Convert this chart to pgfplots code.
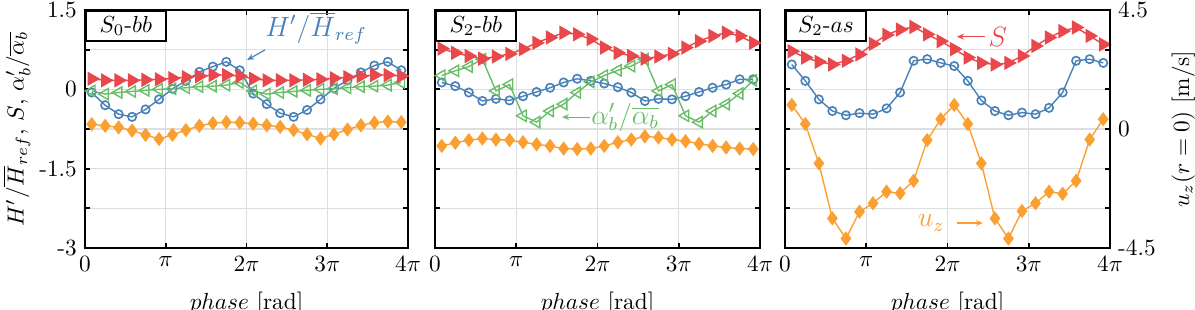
\documentclass[border=0pt]{standalone}
\usepackage{pgfplots}
\pgfplotsset{compat=1.18}
\usepackage{pgfplotstable}
\usetikzlibrary{arrows.meta}
\definecolor{cred}{RGB}{232,72,76}
\definecolor{cblue}{RGB}{72,128,184}
\definecolor{cgreen}{RGB}{104,190,104}
\definecolor{corange}{RGB}{250,160,50}

% x in units of pi
\pgfplotstableread{
x S H A U
0.0833 0.20 -0.06 -0.03 -0.66
0.2500 0.17 -0.30 -0.09 -0.69
0.4167 0.17 -0.47 -0.06 -0.72
0.5833 0.17 -0.52 -0.04 -0.78
0.7500 0.18 -0.38 -0.02 -0.86
0.9167 0.19 -0.19 0.00 -0.94
1.0833 0.21 0.01 0.01 -0.86
1.2500 0.23 0.16 0.03 -0.77
1.4167 0.25 0.33 0.05 -0.69
1.5833 0.27 0.43 0.06 -0.64
1.7500 0.27 0.52 0.08 -0.62
1.9167 0.25 0.36 0.13 -0.63
2.0833 0.20 -0.08 -0.03 -0.65
2.2500 0.17 -0.28 -0.09 -0.68
2.4167 0.17 -0.45 -0.06 -0.71
2.5833 0.17 -0.52 -0.04 -0.77
2.7500 0.18 -0.39 -0.02 -0.85
2.9167 0.19 -0.19 0.00 -0.93
3.0833 0.21 0.02 0.01 -0.85
3.2500 0.23 0.17 0.03 -0.76
3.4167 0.25 0.32 0.05 -0.68
3.5833 0.27 0.45 0.06 -0.63
3.7500 0.27 0.52 0.08 -0.61
3.9167 0.25 0.36 0.13 -0.62
}\tabA

\pgfplotstableread{
x S H A U
0.0833 0.77 0.13 0.26 -1.07
0.2500 0.69 0.06 0.35 -1.01
0.4167 0.63 -0.06 0.43 -0.96
0.5833 0.58 -0.22 0.57 -0.93
0.7500 0.62 -0.18 -0.03 -0.95
0.9167 0.67 -0.21 0.09 -0.96
1.0833 0.76 -0.13 -0.50 -1.00
1.2500 0.88 -0.05 -0.62 -1.04
1.4167 0.98 0.03 -0.41 -1.07
1.5833 1.07 0.13 -0.28 -1.12
1.7500 1.04 0.20 -0.06 -1.13
1.9167 0.95 0.16 0.14 -1.12
2.0833 0.79 0.11 0.26 -1.07
2.2500 0.69 0.04 0.36 -1.00
2.4167 0.63 -0.06 0.44 -0.95
2.5833 0.58 -0.22 0.57 -0.89
2.7500 0.62 -0.18 -0.03 -0.91
2.9167 0.67 -0.19 0.09 -0.95
3.0833 0.79 -0.13 -0.50 -0.98
3.2500 0.91 -0.05 -0.62 -1.03
3.4167 1.01 0.03 -0.41 -1.07
3.5833 1.07 0.09 -0.28 -1.10
3.7500 1.01 0.19 -0.08 -1.12
3.9167 0.88 0.19 0.17 -1.13
}\tabB

\pgfplotstableread{
x S H U
0.0833 0.72 0.47 0.91
0.2500 0.60 0.16 0.19
0.4167 0.52 -0.19 -1.30
0.5833 0.47 -0.41 -3.38
0.7500 0.54 -0.49 -4.14
0.9167 0.66 -0.45 -3.13
1.0833 0.86 -0.47 -2.81
1.2500 1.03 -0.36 -2.37
1.4167 1.13 -0.06 -2.43
1.5833 1.18 0.54 -1.96
1.7500 1.04 0.57 -0.42
1.9167 0.91 0.50 0.37
2.0833 0.76 0.44 0.91
2.2500 0.60 0.16 0.19
2.4167 0.50 -0.21 -1.30
2.5833 0.47 -0.41 -3.38
2.7500 0.50 -0.49 -4.14
2.9167 0.63 -0.44 -3.10
3.0833 0.82 -0.47 -2.81
3.2500 0.98 -0.35 -2.37
3.4167 1.10 -0.06 -2.45
3.5833 1.17 0.54 -1.96
3.7500 1.01 0.57 -0.40
3.9167 0.85 0.50 0.37
}\tabC

\pgfplotsset{
  panel/.style={scale only axis, width=139.3pt, height=102.34pt,
    xmin=0, xmax=4, ymin=-3, ymax=1.5,
    xtick={0,1,2,3,4}, xticklabels={0,$\pi$,$2\pi$,$3\pi$,$4\pi$},
    ytick={-3,-2.25,-1.5,-0.75,0,0.75,1.5},
    grid=major, grid style={black!13, line width=0.5pt},
    axis line style={line width=1pt},
    tick style={black, line width=0.8pt}, major tick length=2pt, tick align=inside,
    xlabel={$phase$ [rad]}, xlabel style={yshift=-1.5pt},
    every axis plot/.append style={line width=0.6pt},
  },
  sS/.style={cred, mark=triangle*, mark size=3pt, mark options={rotate=-90, fill=cred, solid}},
  sH/.style={cblue, mark=o, mark size=1.8pt, mark options={line width=0.7pt}},
  sA/.style={cgreen, mark=triangle, mark size=2.8pt, mark options={rotate=90, line width=0.6pt}},
  sU/.style={corange, mark=diamond*, mark size=2.6pt, mark options={fill=corange}},
}
\tikzset{lbl/.style={draw, line width=0.8pt, fill=white, anchor=north west, minimum width=34.4pt, minimum height=12.9pt, inner sep=0pt},
  ann/.style={font=\fontsize{11.5}{13}\selectfont}}

\begin{document}
\begin{tikzpicture}
\useasboundingbox (0,0) rectangle (513.85pt,133.3pt);

\begin{axis}[panel, at={(36.55pt,26.66pt)}, anchor=south west, width=138.9pt,
  yticklabels={-3,,-1.5,,0,,1.5}, ylabel shift=-3pt,
  ylabel={$H'/\overline{H}_{ref}$, $S$, $\alpha'_b/\overline{\alpha_b}$}]
\addplot[sH] table[x=x,y=H]{\tabA};
\addplot[sA] table[x=x,y=A]{\tabA};
\addplot[sU] table[x=x,y=U]{\tabA};
\addplot[sS] table[x=x,y=S]{\tabA};
\node[lbl] at (rel axis cs:0,1) {$S_0$-$bb$};
\node[cblue, ann] at (rel axis cs:0.715,0.924) {$H'/\overline{H}_{ref}$};
\draw[cblue, line width=0.5pt, -{Stealth[length=3pt,width=2.5pt]}] (rel axis cs:0.557,0.832) -- (rel axis cs:0.502,0.790);
\end{axis}

\begin{axis}[panel, at={(187.05pt,26.66pt)}, anchor=south west, width=139.75pt,
  yticklabels={}]
\addplot[sH] table[x=x,y=H]{\tabB};
\addplot[sA] table[x=x,y=A]{\tabB};
\addplot[sU] table[x=x,y=U]{\tabB};
\addplot[sS] table[x=x,y=S]{\tabB};
\node[lbl] at (rel axis cs:0,1) {$S_2$-$bb$};
\node[cgreen, ann] at (rel axis cs:0.585,0.55) {$\alpha'_b/\overline{\alpha_b}$};
\draw[cgreen, line width=0.5pt, -{Stealth[length=3pt,width=2.5pt]}] (rel axis cs:0.477,0.55) -- (rel axis cs:0.391,0.55);
\end{axis}

\begin{axis}[panel, at={(337.55pt,26.66pt)}, anchor=south west, width=139.75pt,
  yticklabels={}]
\addplot[sH] table[x=x,y=H]{\tabC};
\addplot[sS] table[x=x,y=S]{\tabC};
\node[lbl] at (rel axis cs:0,1) {$S_2$-$as$};
\node[cred, ann] at (rel axis cs:0.655,0.888) {$S$};
\draw[cred, line width=0.5pt, -{Stealth[length=3pt,width=2.5pt]}] (rel axis cs:0.615,0.888) -- (rel axis cs:0.529,0.888);
\node[corange, ann] at (rel axis cs:0.45,0.105) {$u_z$};
\draw[corange, line width=0.5pt, -{Stealth[length=3pt,width=2.5pt]}] (rel axis cs:0.529,0.105) -- (rel axis cs:0.609,0.105);
\end{axis}

\begin{axis}[scale only axis, at={(337.55pt,26.66pt)}, anchor=south west, width=139.75pt, height=102.34pt,
  xmin=0, xmax=4, ymin=-4.5, ymax=4.5,
  axis x line=none, axis y line*=right,
  ytick={-4.5,-3,-1.5,0,1.5,3,4.5}, yticklabels={-4.5,,,0,,,4.5},
  major tick length=0pt, axis line style={line width=1pt},
  ylabel={$u_z(r=0)$ [m/s]},
  every axis plot/.append style={line width=0.6pt}]
\addplot[sU] table[x=x,y=U]{\tabC};
\end{axis}
\end{tikzpicture}
\end{document}
